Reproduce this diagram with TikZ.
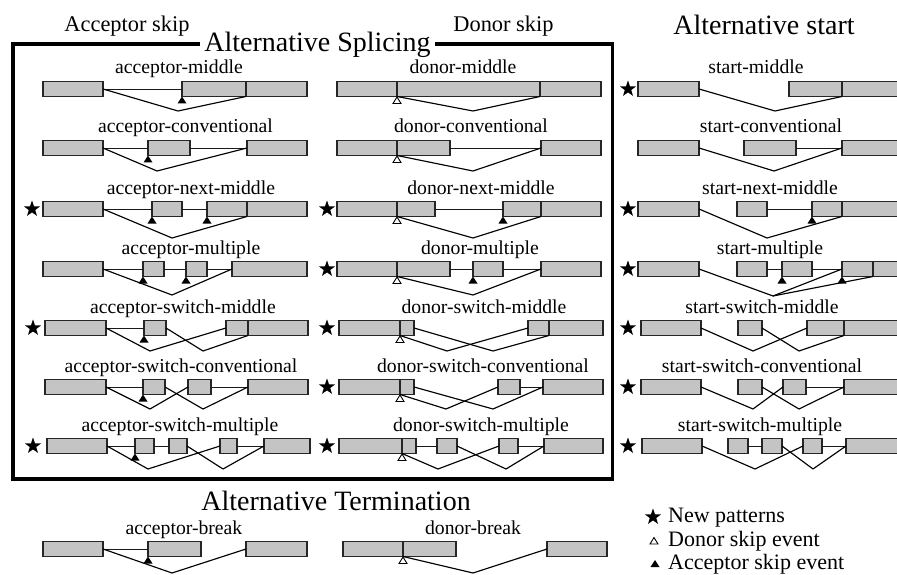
\documentclass[tikz,border=0pt]{standalone}
\usepackage{fontspec}
\setmainfont{Liberation Serif}
\usetikzlibrary{shapes.geometric}
\definecolor{exfill}{RGB}{196,196,196}
\newcommand{\exonbox}[4]{\node[exon, minimum width={(#3)-(#2)}, anchor=west] (#1) at (#2,#4) {};}
\newcommand{\divline}[3]{\coordinate (#1) at (#2,#3+7.5); \draw[exline] (#2,#3-7.5) -- (#1);}
\begin{document}
\begin{tikzpicture}[x=1pt,y=-1pt,
  exon/.style={draw=black!85, fill=exfill, line width=1.2pt, minimum height=15pt, inner sep=0pt, outer sep=0pt},
  exline/.style={draw=black!85, line width=1.2pt},
  splice/.style={draw=black, line width=1.15pt, line join=round},
  intron/.style={draw=black!90, line width=0.8pt},
  lab/.style={font=\fontsize{19.7}{22}\selectfont, anchor=base, inner sep=0pt},
  head/.style={font=\fontsize{22.4}{26}\selectfont, anchor=base, inner sep=0pt},
  title/.style={font=\fontsize{28}{32}\selectfont, anchor=base, inner sep=0pt},
  legtxt/.style={font=\fontsize{22}{26}\selectfont, anchor=base west, inner sep=0pt},
  starmark/.style={star, star points=5, star point ratio=2.5, fill=black, minimum size=17pt, inner sep=0pt},
  accmark/.pic={\fill[black] (0,0) -- (-4.5,7) -- (4.5,7) -- cycle;},
  donmark/.pic={\draw[black, fill=white, line width=0.9pt, line join=miter] (0,0.5) -- (-4,7) -- (4,7) -- cycle;}
]
\useasboundingbox (0,0) rectangle (897,575);
\clip (0,0) rectangle (897,575);

% ---------- frame and titles ----------
\draw[line width=3.6pt] (12.7,44) rectangle (612.5,479);
\node[title, fill=white, inner sep=4pt, anchor=base] (tsplice) at (317.5,52) {Alternative Splicing};
\node[head] (hacc) at (127,32) {Acceptor skip};
\node[head] (hdon) at (503.5,32) {Donor skip};
\node[title] (hstart) at (764,35) {Alternative start};
\node[title] (hterm) at (336,510) {Alternative Termination};

% ================= ACCEPTOR COLUMN =================
% R1 acceptor-middle
\node[lab] (la1) at (179,74) {acceptor-middle};
\exonbox{a1a}{43}{103}{89} \exonbox{a1b}{182}{307}{89} \divline{a1d}{246}{89}
\draw[intron] (a1a.east) -- (a1b.west);
\coordinate (a1v) at (178,111);
\draw[splice] (a1a.east) -- (a1v) -- (a1d);
\pic at (182,96.5) {accmark};

% R2 acceptor-conventional
\node[lab] (la2) at (185.5,133) {acceptor-conventional};
\exonbox{a2a}{43}{103}{148} \exonbox{a2b}{148}{190}{148} \exonbox{a2c}{247}{307}{148}
\draw[intron] (a2a.east) -- (a2b.west) (a2b.east) -- (a2c.west);
\coordinate (a2v) at (157,171);
\draw[splice] (a2a.east) -- (a2v) -- (a2c.west);
\pic at (148,155.5) {accmark};

% R3 acceptor-next-middle
\node[starmark] (sa3) at (32,209) {};
\node[lab] (la3) at (191,194) {acceptor-next-middle};
\exonbox{a3a}{43}{103}{209} \exonbox{a3b}{152}{182}{209} \exonbox{a3c}{207}{307}{209} \divline{a3d}{247}{209}
\draw[intron] (a3a.east) -- (a3b.west) (a3b.east) -- (a3c.west);
\coordinate (a3v) at (172,238);
\draw[splice] (a3a.east) -- (a3v) -- (a3d);
\pic at (152,216.5) {accmark};
\pic at (207,216.5) {accmark};

% R4 acceptor-multiple
\node[lab] (la4) at (191,254) {acceptor-multiple};
\exonbox{a4a}{43}{103}{269} \exonbox{a4b}{143}{164}{269} \exonbox{a4c}{186}{207}{269} \exonbox{a4d}{232}{307}{269}
\draw[intron] (a4a.east) -- (a4b.west) (a4b.east) -- (a4c.west) (a4c.east) -- (a4d.west);
\coordinate (a4v) at (172,295);
\draw[splice] (a4a.east) -- (a4v) -- (a4d.west);
\pic at (143,276.5) {accmark};
\pic at (186,276.5) {accmark};

% R5 acceptor-switch-middle
\node[starmark] (sa5) at (33,328) {};
\node[lab] (la5) at (183,313) {acceptor-switch-middle};
\exonbox{a5a}{45}{106}{328} \exonbox{a5b}{144}{166}{328} \exonbox{a5c}{226}{308}{328} \divline{a5d}{248}{328}
\draw[intron] (a5a.east) -- (a5b.west);
\coordinate (a5v) at (150,351); \coordinate (a5w) at (203,351);
\draw[splice] (a5a.east) -- (a5v) -- (a5c.west);
\draw[splice] (a5b.east) -- (a5w) -- (a5d);
\pic at (144,335.5) {accmark};

% R6 acceptor-switch-conventional
\node[lab] (la6) at (181,372) {acceptor-switch-conventional};
\exonbox{a6a}{45}{106}{387} \exonbox{a6b}{143}{165}{387} \exonbox{a6c}{188}{211}{387} \exonbox{a6d}{248}{308}{387}
\draw[intron] (a6a.east) -- (a6b.west) (a6c.east) -- (a6d.west);
\coordinate (a6v) at (150,409); \coordinate (a6w) at (203,409);
\draw[splice] (a6a.east) -- (a6v) -- (a6c.west);
\draw[splice] (a6b.east) -- (a6w) -- (a6d.west);
\pic at (143,394.5) {accmark};

% R7 acceptor-switch-multiple
\node[starmark] (sa7) at (33,446) {};
\node[lab] (la7) at (180,431) {acceptor-switch-multiple};
\exonbox{a7a}{47}{107}{446} \exonbox{a7b}{135}{154}{446} \exonbox{a7c}{169}{187}{446} \exonbox{a7d}{220}{237}{446} \exonbox{a7e}{264}{310}{446}
\draw[intron] (a7a.east) -- (a7b.west) (a7b.east) -- (a7c.west) (a7d.east) -- (a7e.west);
\coordinate (a7v) at (148,469); \coordinate (a7w) at (223,469);
\draw[splice] (a7a.east) -- (a7v) -- (a7d.west);
\draw[splice] (a7c.east) -- (a7w) -- (a7e.west);
\pic at (135,453.5) {accmark};

% RT acceptor-break
\node[lab] (lat) at (184,534) {acceptor-break};
\exonbox{t1a}{43}{103}{549} \exonbox{t1b}{148}{201}{549} \exonbox{t1c}{246}{307}{549}
\draw[intron] (t1a.east) -- (t1b.west);
\coordinate (t1v) at (172,573);
\draw[splice] (t1a.east) -- (t1v) -- (t1c.west);
\pic at (148,556.5) {accmark};

% ================= DONOR COLUMN =================
% R1 donor-middle
\node[lab] (ld1) at (463,74) {donor-middle};
\exonbox{d1a}{337}{601}{89} \divline{d1x}{397}{89} \divline{d1y}{540}{89}
\coordinate (d1v) at (473,111);
\draw[splice] (d1x) -- (d1v) -- (d1y);
\pic at (397,96.5) {donmark};

% R2 donor-conventional
\node[lab] (ld2) at (471,133) {donor-conventional};
\exonbox{d2a}{337}{450}{148} \divline{d2x}{397}{148} \exonbox{d2b}{541}{601}{148}
\draw[intron] (d2a.east) -- (d2b.west);
\coordinate (d2v) at (473,171);
\draw[splice] (d2x) -- (d2v) -- (d2b.west);
\pic at (397,155.5) {donmark};

% R3 donor-next-middle
\node[starmark] (sd3) at (327,209) {};
\node[lab] (ld3) at (481,194) {donor-next-middle};
\exonbox{d3a}{337}{435}{209} \divline{d3x}{397}{209} \exonbox{d3b}{503}{601}{209} \divline{d3y}{541}{209}
\draw[intron] (d3a.east) -- (d3b.west);
\coordinate (d3v) at (473,238);
\draw[splice] (d3x) -- (d3v) -- (d3y);
\pic at (397,216.5) {donmark};
\pic at (503,216.5) {accmark};

% R4 donor-multiple
\node[starmark] (sd4) at (327,269) {};
\node[lab] (ld4) at (480,254) {donor-multiple};
\exonbox{d4a}{337}{450}{269} \divline{d4x}{397}{269} \exonbox{d4b}{473}{503}{269} \exonbox{d4c}{541}{601}{269}
\draw[intron] (d4a.east) -- (d4b.west) (d4b.east) -- (d4c.west);
\coordinate (d4v) at (473,295);
\draw[splice] (d4x) -- (d4v) -- (d4c.west);
\pic at (397,276.5) {donmark};
\pic at (473,276.5) {accmark};

% R5 donor-switch-middle
\node[starmark] (sd5) at (327,328) {};
\node[lab] (ld5) at (484,313) {donor-switch-middle};
\exonbox{d5a}{339}{414}{328} \divline{d5x}{400}{328} \exonbox{d5b}{528}{603}{328} \divline{d5y}{549}{328}
\coordinate (d5v) at (447,351); \coordinate (d5w) at (493,351);
\draw[splice] (d5x) -- (d5v) -- (d5b.west);
\draw[splice] (d5a.east) -- (d5w) -- (d5y);
\pic at (400,335.5) {donmark};

% R6 donor-switch-conventional
\node[starmark] (sd6) at (327,387) {};
\node[lab] (ld6) at (483,372) {donor-switch-conventional};
\exonbox{d6a}{339}{414}{387} \divline{d6x}{400}{387} \exonbox{d6b}{498}{520}{387} \exonbox{d6c}{543}{603}{387}
\draw[intron] (d6b.east) -- (d6c.west);
\coordinate (d6v) at (446,409); \coordinate (d6w) at (493,409);
\draw[splice] (d6x) -- (d6v) -- (d6b.west);
\draw[splice] (d6a.east) -- (d6w) -- (d6c.west);
\pic at (400,394.5) {donmark};

% R7 donor-switch-multiple
\node[starmark] (sd7) at (327,446) {};
\node[lab] (ld7) at (481,431) {donor-switch-multiple};
\exonbox{d7a}{339}{416}{446} \divline{d7x}{402}{446} \exonbox{d7b}{437}{457}{446} \exonbox{d7c}{499}{518}{446} \exonbox{d7d}{544}{603}{446}
\draw[intron] (d7a.east) -- (d7b.west) (d7c.east) -- (d7d.west);
\coordinate (d7v) at (438,469); \coordinate (d7w) at (506,469);
\draw[splice] (d7x) -- (d7v) -- (d7c.west);
\draw[splice] (d7b.east) -- (d7w) -- (d7d.west);
\pic at (402,453.5) {donmark};

% RT donor-break
\node[lab] (ldt) at (473,534) {donor-break};
\exonbox{t2a}{343}{456}{549} \divline{t2x}{403}{549} \exonbox{t2b}{547}{607}{549}
\coordinate (t2v) at (473,573);
\draw[splice] (t2x) -- (t2v) -- (t2b.west);
\pic at (403,556.5) {donmark};

% ================= START COLUMN =================
% R1 start-middle
\node[starmark] (ss1) at (628,89) {};
\node[lab] (ls1) at (756,74) {start-middle};
\exonbox{s1a}{638}{699}{89} \exonbox{s1b}{789}{912}{89} \divline{s1x}{842}{89}
\coordinate (s1v) at (775,111);
\draw[splice] (s1a.east) -- (s1v) -- (s1x);

% R2 start-conventional
\node[lab] (ls2) at (771,133) {start-conventional};
\exonbox{s2a}{638}{699}{148} \exonbox{s2b}{744}{796}{148} \exonbox{s2c}{842}{912}{148}
\draw[intron] (s2b.east) -- (s2c.west);
\coordinate (s2v) at (774,171);
\draw[splice] (s2a.east) -- (s2v) -- (s2c.west);

% R3 start-next-middle
\node[starmark] (ss3) at (628,209) {};
\node[lab] (ls3) at (770,194) {start-next-middle};
\exonbox{s3a}{638}{699}{209} \exonbox{s3b}{737}{767}{209} \exonbox{s3c}{812}{912}{209} \divline{s3x}{842}{209}
\draw[intron] (s3b.east) -- (s3c.west);
\coordinate (s3v) at (767,238);
\draw[splice] (s3a.east) -- (s3v) -- (s3x);
\pic at (812,216.5) {accmark};

% R4 start-multiple
\node[starmark] (ss4) at (628,269) {};
\node[lab] (ls4) at (770,254) {start-multiple};
\exonbox{s4a}{638}{699}{269} \exonbox{s4b}{737}{767}{269} \exonbox{s4c}{782}{812}{269} \exonbox{s4d}{842}{912}{269} \divline{s4x}{873}{269}
\draw[intron] (s4b.east) -- (s4c.west) (s4c.east) -- (s4d.west);
\coordinate (s4v) at (773,296);
\draw[splice] (s4a.east) -- (s4v) -- (s4d.west);
\draw[splice] (s4v) -- (s4x);
\pic at (782,276.5) {accmark};
\pic at (842,276.5) {accmark};

% R5 start-switch-middle
\node[starmark] (ss5) at (628,328) {};
\node[lab] (ls5) at (762,313) {start-switch-middle};
\exonbox{s5a}{641}{701}{328} \exonbox{s5b}{738}{762}{328} \exonbox{s5c}{807}{912}{328} \divline{s5x}{844}{328}
\coordinate (s5v) at (753,351); \coordinate (s5w) at (799,351);
\draw[splice] (s5a.east) -- (s5v) -- (s5c.west);
\draw[splice] (s5b.east) -- (s5w) -- (s5x);

% R6 start-switch-conventional
\node[starmark] (ss6) at (628,387) {};
\node[lab] (ls6) at (762,372) {start-switch-conventional};
\exonbox{s6a}{641}{701}{387} \exonbox{s6b}{738}{762}{387} \exonbox{s6c}{783}{806}{387} \exonbox{s6d}{844}{912}{387}
\draw[intron] (s6c.east) -- (s6d.west);
\coordinate (s6v) at (753,409); \coordinate (s6w) at (799,409);
\draw[splice] (s6a.east) -- (s6v) -- (s6c.west);
\draw[splice] (s6b.east) -- (s6w) -- (s6d.west);

% R7 start-switch-multiple
\node[starmark] (ss7) at (628,446) {};
\node[lab] (ls7) at (760,431) {start-switch-multiple};
\exonbox{s7a}{642}{702}{446} \exonbox{s7b}{728}{748}{446} \exonbox{s7c}{762}{782}{446} \exonbox{s7d}{803}{822}{446} \exonbox{s7e}{846}{912}{446}
\draw[intron] (s7b.east) -- (s7c.west) (s7d.east) -- (s7e.west);
\coordinate (s7v) at (755,469); \coordinate (s7w) at (813,469);
\draw[splice] (s7a.east) -- (s7v) -- (s7d.west);
\draw[splice] (s7c.east) -- (s7w) -- (s7e.west);

% ================= LEGEND =================
\node[starmark] (lgs) at (653,517) {};
\node[legtxt] (lg1) at (668,522) {New patterns};
\pic at (654,537) {donmark};
\node[legtxt] (lg2) at (668,546) {Donor skip event};
\pic at (655,560) {accmark};
\node[legtxt] (lg3) at (668,569) {Acceptor skip event};
\end{tikzpicture}
\end{document}
